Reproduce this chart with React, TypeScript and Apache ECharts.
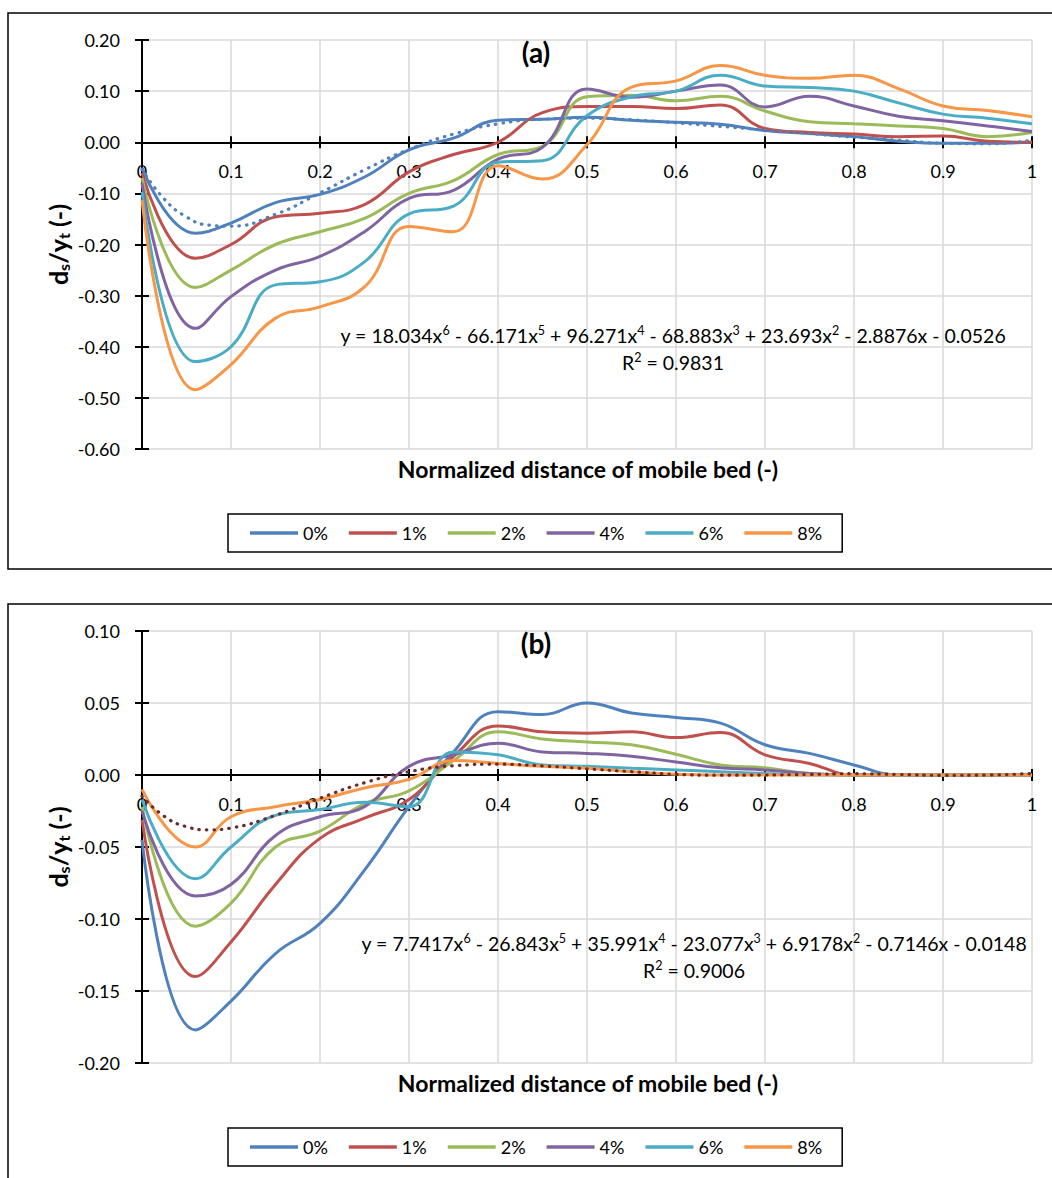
import React, { useEffect, useRef } from "react";
import * as echarts from "echarts";

// ---------- data ----------
const SERIES_NAMES = ["0%", "1%", "2%", "4%", "6%", "8%"];
const COLORS = ["#4F81BD", "#C0504D", "#9BBB59", "#8064A2", "#4BACC6", "#F79646"];

const X_POINTS = [0, 0.06, 0.1, 0.15, 0.2, 0.25, 0.3, 0.35, 0.4, 0.45, 0.5, 0.55, 0.6, 0.65, 0.7, 0.75, 0.8, 0.85, 0.9, 0.95, 1];

// panel (a)
const A_0 = [-0.05, -0.178, -0.158, -0.118, -0.102, -0.068, -0.015, 0.008, 0.043, 0.045, 0.049, 0.043, 0.039, 0.035, 0.023, 0.017, 0.011, 0.002, -0.002, -0.002, 0];
const A_1 = [-0.06, -0.227, -0.2, -0.146, -0.139, -0.122, -0.058, -0.024, 0.0, 0.058, 0.07, 0.07, 0.066, 0.073, 0.027, 0.019, 0.016, 0.011, 0.012, 0.002, 0];
const A_2 = [-0.07, -0.284, -0.25, -0.2, -0.175, -0.149, -0.1, -0.075, -0.024, -0.008, 0.089, 0.092, 0.081, 0.09, 0.061, 0.04, 0.036, 0.032, 0.027, 0.011, 0.019];
const A_4 = [-0.08, -0.364, -0.302, -0.25, -0.223, -0.175, -0.11, -0.094, -0.033, -0.01, 0.104, 0.088, 0.1, 0.112, 0.069, 0.09, 0.071, 0.051, 0.042, 0.032, 0.021];
const A_6 = [-0.097, -0.429, -0.4, -0.279, -0.273, -0.234, -0.14, -0.125, -0.039, -0.036, 0.052, 0.089, 0.1, 0.131, 0.11, 0.107, 0.1, 0.077, 0.055, 0.047, 0.036];
const A_8 = [-0.113, -0.484, -0.435, -0.344, -0.322, -0.283, -0.165, -0.175, -0.046, -0.072, -0.005, 0.108, 0.12, 0.15, 0.131, 0.125, 0.131, 0.105, 0.071, 0.062, 0.05];

// panel (b)
const B_0 = [-0.045, -0.177, -0.157, -0.124, -0.103, -0.066, -0.022, 0.016, 0.044, 0.042, 0.05, 0.043, 0.04, 0.036, 0.021, 0.015, 0.007, 0, 0, 0, 0];
const B_1 = [-0.031, -0.14, -0.116, -0.076, -0.044, -0.03, -0.017, 0.013, 0.034, 0.03, 0.029, 0.03, 0.026, 0.0295, 0.014, 0.008, 0, 0, 0, 0, 0];
const B_2 = [-0.022, -0.105, -0.089, -0.05, -0.039, -0.02, -0.011, 0.01, 0.03, 0.025, 0.023, 0.021, 0.0144, 0.007, 0.005, 0.001, 0, 0, 0, 0, 0];
const B_4 = [-0.025, -0.084, -0.076, -0.042, -0.029, -0.022, 0.006, 0.014, 0.022, 0.016, 0.015, 0.013, 0.009, 0.005, 0.0035, 0.001, 0, 0, 0, 0, 0];
const B_6 = [-0.017, -0.072, -0.05, -0.028, -0.024, -0.019, -0.022, 0.016, 0.014, 0.007, 0.006, 0.0047, 0.0035, 0.0023, 0.001, 0, 0, 0, 0, 0, 0];
const B_8 = [-0.01, -0.05, -0.029, -0.022, -0.017, -0.009, -0.003, 0.01, 0.008, 0.006, 0.0047, 0.0023, 0.0005, 0, 0, 0, 0, 0, 0, 0, 0];

// polynomial trendlines
const TREND_X = [0, 0.025, 0.05, 0.075, 0.1, 0.15, 0.2, 0.25, 0.3, 0.35, 0.4, 0.45, 0.5, 0.55, 0.6, 0.65, 0.7, 0.75, 0.8, 0.85, 0.9, 0.95, 1];
const A_TREND = [-0.053, -0.111, -0.146, -0.162, -0.164, -0.141, -0.099, -0.054, -0.014, 0.016, 0.036, 0.045, 0.047, 0.044, 0.038, 0.031, 0.024, 0.017, 0.01, 0.004, -0.002, -0.003, 0.004];
const B_TREND = [-0.0148, -0.0287, -0.0359, -0.0381, -0.0368, -0.028, -0.0161, -0.0054, 0.0023, 0.0064, 0.0075, 0.0063, 0.0043, 0.0023, 0.0005, -0.0001, 0.0, 0.0004, 0.0009, 0.0004, -0.0002, 0.0, 0.0011];

const A_VALUES = [A_0, A_1, A_2, A_4, A_6, A_8];
const B_VALUES = [B_0, B_1, B_2, B_4, B_6, B_8];

const X_MIN = 0, X_MAX = 1, X_STEP = 0.1;
const A_Y_MIN = -0.6, A_Y_MAX = 0.2, A_Y_STEP = 0.1;
const B_Y_MIN = -0.2, B_Y_MAX = 0.1, B_Y_STEP = 0.05;

const EQ_A = [["y = 18.034x", "6"], [" - 66.171x", "5"], [" + 96.271x", "4"], [" - 68.883x", "3"], [" + 23.693x", "2"], [" - 2.8876x - 0.0526", ""]];
const R2_A = "0.9831";
const EQ_B = [["y = 7.7417x", "6"], [" - 26.843x", "5"], [" + 35.991x", "4"], [" - 23.077x", "3"], [" + 6.9178x", "2"], [" - 0.7146x - 0.0148", ""]];
const R2_B = "0.9006";
const X_TITLE = "Normalized distance of mobile bed (-)";

// ---------- styling ----------
const FONT = "Lato, 'Open Sans', sans-serif";
const GRID_A = { left: 142, top: 40, width: 890, height: 409 };
const GRID_B = { left: 142, top: 631, width: 890, height: 432 };

function xAxes(gridIndex: number, grid: any, yMin: number, yMax: number) {
  // place the x axis on the y = 0 line of its grid
  const zeroOffset = -grid.height * (0 - yMin) / (yMax - yMin);
  const base = {
    gridIndex,
    type: "value",
    min: X_MIN,
    max: X_MAX,
    interval: X_STEP,
    position: "bottom",
    offset: zeroOffset,
    axisLine: { show: true, onZero: false, lineStyle: { color: "#000", width: 2 } },
  };
  return [
    {
      ...base,
      axisTick: { show: true, length: 6, lineStyle: { color: "#000", width: 2 } },
      axisLabel: {
        margin: 20,
        fontSize: 18,
        fontFamily: FONT,
        color: "#000",
        formatter: (v: number) => String(Math.round(v * 10) / 10),
      },
      splitLine: { show: true, lineStyle: { color: "#d9d9d9", width: 1.5 } },
    },
    {
      ...base,
      axisTick: { show: true, inside: true, length: 6, lineStyle: { color: "#000", width: 2 } },
      axisLabel: { show: false },
      splitLine: { show: false },
    },
  ];
}

function yAxes(gridIndex: number, min: number, max: number, step: number) {
  const base = {
    gridIndex,
    type: "value",
    min,
    max,
    interval: step,
    position: "left",
    axisLine: { show: true, onZero: false, lineStyle: { color: "#000", width: 2 } },
  };
  return [
    {
      ...base,
      axisTick: { show: true, length: 7, lineStyle: { color: "#000", width: 2 } },
      axisLabel: {
        margin: 22,
        fontSize: 18,
        fontFamily: FONT,
        color: "#000",
        formatter: (v: number) => v.toFixed(2),
      },
      splitLine: { show: true, lineStyle: { color: "#d9d9d9", width: 1.5 } },
    },
    {
      ...base,
      axisTick: { show: true, inside: true, length: 7, lineStyle: { color: "#000", width: 2 } },
      axisLabel: { show: false },
      splitLine: { show: false },
    },
  ];
}

function buildSeries(values: number[][], trend: number[], axisIndex: number, trendColor: string) {
  const list: any[] = values.map((vals, i) => ({
    type: "line",
    name: SERIES_NAMES[i],
    xAxisIndex: axisIndex,
    yAxisIndex: axisIndex,
    data: X_POINTS.map((x, j) => [x, vals[j]]),
    smooth: 0.45,
    symbol: "none",
    lineStyle: { color: COLORS[i], width: 3 },
    itemStyle: { color: COLORS[i] },
    z: 2,
  }));
  list.push({
    type: "line",
    name: "Poly. trend",
    xAxisIndex: axisIndex,
    yAxisIndex: axisIndex,
    data: TREND_X.map((x, j) => [x, trend[j]]),
    smooth: 0.5,
    symbol: "none",
    lineStyle: { color: trendColor, width: 3.2, type: [0.5, 7], cap: "round" },
    itemStyle: { color: trendColor },
    z: 3,
  });
  return list;
}

function legendAt(top: number) {
  return {
    data: SERIES_NAMES,
    left: 228,
    top,
    orient: "horizontal",
    icon: "rect",
    itemWidth: 48,
    itemHeight: 3.5,
    itemGap: 21,
    padding: [10, 20, 10, 22],
    borderColor: "#000",
    borderWidth: 1.5,
    selectedMode: false,
    textStyle: { fontSize: 18, fontFamily: FONT, color: "#000" },
  };
}

function equationText(parts: string[][]) {
  return parts.map(([a, b]) => `{n|${a}}` + (b ? `{s|${b}}` : "")).join("");
}

const EQ_RICH = {
  n: { fontSize: 19.5, fontFamily: FONT, fill: "#000", color: "#000", lineHeight: 22 },
  s: { fontSize: 12.5, fontFamily: FONT, fill: "#000", color: "#000", verticalAlign: "top", lineHeight: 12 },
};

function panelGraphics(boxTop: number, boxHeight: number, grid: any, label: string, eq: string[][], r2: string, eqX: number, eqY: number) {
  const cx = grid.left + grid.width / 2;
  const cy = grid.top + grid.height / 2;
  return [
    {
      type: "rect",
      shape: { x: 8, y: boxTop, width: 1100, height: boxHeight },
      style: { fill: "none", stroke: "#000", lineWidth: 1.5 },
      silent: true,
      z: -10,
    },
    {
      type: "text",
      x: 536,
      y: grid.top + 12,
      style: { text: label, font: `bold 28px ${FONT}`, fill: "#000", align: "center", verticalAlign: "middle" },
      z: 10,
    },
    {
      type: "text",
      x: eqX,
      y: eqY,
      style: { text: equationText(eq), rich: EQ_RICH, align: "center", verticalAlign: "middle" },
      z: 10,
    },
    {
      type: "text",
      x: eqX,
      y: eqY + 27,
      style: { text: `{n|R}{s|2}{n| = ${r2}}`, rich: EQ_RICH, align: "center", verticalAlign: "middle" },
      z: 10,
    },
    {
      type: "text",
      x: cx + 1,
      y: grid.top + grid.height + 20,
      style: { text: X_TITLE, font: `bold 23px ${FONT}`, fill: "#000", align: "center", verticalAlign: "middle" },
      z: 10,
    },
    {
      type: "text",
      x: 58,
      y: cy,
      rotation: Math.PI / 2,
      style: {
        text: "{m|d}{b|s}{m|/y}{b|t}{m| (-)}",
        rich: {
          m: { fontSize: 25, fontWeight: "bold", fontFamily: FONT, fill: "#000", color: "#000", lineHeight: 26 },
          b: { fontSize: 16, fontWeight: "bold", fontFamily: FONT, fill: "#000", color: "#000", verticalAlign: "bottom", lineHeight: 16 },
        },
        align: "center",
        verticalAlign: "middle",
      },
      z: 10,
    },
  ];
}

export default function App() {
  const ref = useRef<HTMLDivElement>(null);

  useEffect(() => {
    if (!ref.current) return;
    const chart = echarts.init(ref.current, undefined, { renderer: "svg" });
    const option: any = {
      animation: false,
      backgroundColor: "#fff",
      grid: [
        { ...GRID_A, containLabel: false },
        { ...GRID_B, containLabel: false },
      ],
      xAxis: [...xAxes(0, GRID_A, A_Y_MIN, A_Y_MAX), ...xAxes(1, GRID_B, B_Y_MIN, B_Y_MAX)],
      yAxis: [...yAxes(0, A_Y_MIN, A_Y_MAX, A_Y_STEP), ...yAxes(1, B_Y_MIN, B_Y_MAX, B_Y_STEP)],
      legend: [legendAt(514), legendAt(1128)],
      series: [
        ...buildSeries(A_VALUES, A_TREND, 0, "#4F81BD"),
        ...buildSeries(B_VALUES, B_TREND, 2, "#6E2B2B"),
      ],
      graphic: [
        ...panelGraphics(13, 556, GRID_A, "(a)", EQ_A, R2_A, 673, 335),
        ...panelGraphics(604, 700, GRID_B, "(b)", EQ_B, R2_B, 694, 943),
      ],
    };
    chart.setOption(option);
    return () => chart.dispose();
  }, []);

  return (
    <div
      ref={ref}
      style={{ position: "absolute", left: 0, top: 0, width: 1052, height: 1178, background: "#fff" }}
    />
  );
}
